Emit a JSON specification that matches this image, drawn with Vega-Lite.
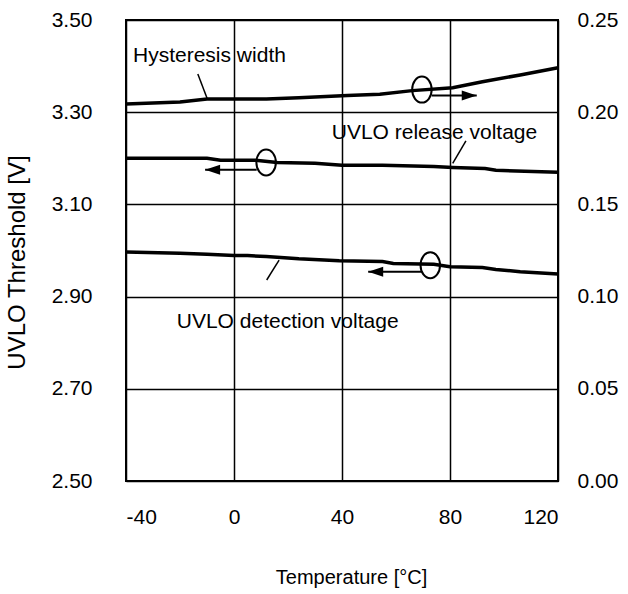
{
  "$schema": "https://vega.github.io/schema/vega-lite/v6.json",
  "width": 432,
  "height": 461,
  "autosize": {"type": "none"},
  "padding": {"left": 126, "top": 20, "right": 70, "bottom": 113},
  "background": "white",
  "config": {
    "font": "Liberation Sans",
    "view": {"stroke": "black", "strokeWidth": 2},
    "axis": {
      "domain": false,
      "ticks": false,
      "grid": true,
      "gridColor": "black",
      "gridWidth": 1.5,
      "gridOpacity": 1,
      "labelFont": "Liberation Sans",
      "labelFontSize": 21,
      "labelColor": "black",
      "titleFont": "Liberation Sans",
      "titleFontSize": 21,
      "titleFontWeight": "normal",
      "titleColor": "black"
    }
  },
  "datasets": {
    "curves": [
      {"series": "release", "temp": -40, "v": 3.200},
      {"series": "release", "temp": -10, "v": 3.200},
      {"series": "release", "temp": -5, "v": 3.196},
      {"series": "release", "temp": 8, "v": 3.196},
      {"series": "release", "temp": 16, "v": 3.191},
      {"series": "release", "temp": 30, "v": 3.189},
      {"series": "release", "temp": 40, "v": 3.185},
      {"series": "release", "temp": 55, "v": 3.185},
      {"series": "release", "temp": 74, "v": 3.182},
      {"series": "release", "temp": 81, "v": 3.180},
      {"series": "release", "temp": 93, "v": 3.178},
      {"series": "release", "temp": 97, "v": 3.174},
      {"series": "release", "temp": 120, "v": 3.170},
      {"series": "detection", "temp": -40, "v": 2.997},
      {"series": "detection", "temp": -20, "v": 2.994},
      {"series": "detection", "temp": -10, "v": 2.992},
      {"series": "detection", "temp": 0, "v": 2.989},
      {"series": "detection", "temp": 5, "v": 2.989},
      {"series": "detection", "temp": 12, "v": 2.987},
      {"series": "detection", "temp": 24, "v": 2.982},
      {"series": "detection", "temp": 39, "v": 2.978},
      {"series": "detection", "temp": 55, "v": 2.976},
      {"series": "detection", "temp": 59, "v": 2.972},
      {"series": "detection", "temp": 74, "v": 2.970},
      {"series": "detection", "temp": 80, "v": 2.965},
      {"series": "detection", "temp": 92, "v": 2.963},
      {"series": "detection", "temp": 97, "v": 2.959},
      {"series": "detection", "temp": 106, "v": 2.954},
      {"series": "detection", "temp": 120, "v": 2.949}
    ],
    "hyst": [
      {"temp": -40, "w": 0.2044},
      {"temp": -20, "w": 0.2055},
      {"temp": -10, "w": 0.2072},
      {"temp": 0, "w": 0.2072},
      {"temp": 12, "w": 0.2072},
      {"temp": 24, "w": 0.2079},
      {"temp": 32, "w": 0.2084},
      {"temp": 42, "w": 0.2090},
      {"temp": 54, "w": 0.2097},
      {"temp": 66, "w": 0.2117},
      {"temp": 81, "w": 0.2133},
      {"temp": 92, "w": 0.2165},
      {"temp": 106, "w": 0.2202},
      {"temp": 120, "w": 0.2241}
    ],
    "ellipses": [
      {"temp": 69.6, "v": 3.349},
      {"temp": 11.9, "v": 3.191},
      {"temp": 72.7, "v": 2.968}
    ],
    "arrows": [
      {"t1": 73.2, "t2": 89.9, "v": 3.336, "dir": "right"},
      {"t1": 8.4, "t2": -10.7, "v": 3.175, "dir": "left"},
      {"t1": 69.5, "t2": 49.7, "v": 2.954, "dir": "left"}
    ],
    "leaders": [
      {"t1": -13.4, "v1": 3.383, "t2": -9.9, "v2": 3.329},
      {"t1": 85.9, "v1": 3.238, "t2": 81.0, "v2": 3.189},
      {"t1": 16.7, "v1": 2.979, "t2": 12.1, "v2": 2.936}
    ],
    "labels": [
      {"temp": -37.4, "v": 3.409, "text": "Hysteresis width"},
      {"temp": 36.2, "v": 3.241, "text": "UVLO release voltage"},
      {"temp": -21.2, "v": 2.831, "text": "UVLO detection voltage"}
    ]
  },
  "layer": [
    {
      "layer": [
        {
          "data": {"name": "curves"},
          "mark": {"type": "line", "color": "black", "strokeWidth": 3.5},
          "encoding": {
            "x": {
              "field": "temp", "type": "quantitative",
              "scale": {"domain": [-40, 120], "nice": false, "zero": false},
              "axis": {"values": [-40, 0, 40, 80, 120], "labelExpr": "replace(datum.label, '\u2212', '-')", "title": "Temperature [°C]", "titleFontSize": 20, "labelPadding": 25, "titlePadding": 40, "titleX": 225}
            },
            "y": {
              "field": "v", "type": "quantitative",
              "scale": {"domain": [2.5, 3.5], "nice": false, "zero": false},
              "axis": {"values": [2.5, 2.7, 2.9, 3.1, 3.3, 3.5], "format": ".2f", "title": "UVLO Threshold [V]", "titleFontSize": 24, "labelPadding": 34, "titlePadding": 22, "titleY": 242}
            },
            "detail": {"field": "series"}
          }
        },
        {
          "data": {"name": "ellipses"},
          "mark": {"type": "point", "shape": "M0,-1A0.75,1,0,1,1,0,1A0.75,1,0,1,1,0,-1Z", "size": 676, "filled": false, "stroke": "black", "strokeWidth": 2, "opacity": 1},
          "encoding": {
            "x": {"field": "temp", "type": "quantitative"},
            "y": {"field": "v", "type": "quantitative"}
          }
        },
        {
          "data": {"name": "arrows"},
          "mark": {"type": "rule", "color": "black", "strokeWidth": 2},
          "encoding": {
            "x": {"field": "t1", "type": "quantitative"},
            "x2": {"field": "t2"},
            "y": {"field": "v", "type": "quantitative"}
          }
        },
        {
          "data": {"name": "arrows"},
          "mark": {"type": "point", "filled": true, "size": 400, "color": "black", "opacity": 1},
          "encoding": {
            "x": {"field": "t2", "type": "quantitative"},
            "y": {"field": "v", "type": "quantitative"},
            "shape": {
              "field": "dir", "type": "nominal",
              "scale": {"domain": ["right", "left"], "range": ["M0,0L-1.5,-0.5L-1.5,0.5Z", "M0,0L1.5,-0.5L1.5,0.5Z"]},
              "legend": null
            }
          }
        },
        {
          "data": {"name": "leaders"},
          "mark": {"type": "rule", "color": "black", "strokeWidth": 1.5},
          "encoding": {
            "x": {"field": "t1", "type": "quantitative"},
            "y": {"field": "v1", "type": "quantitative"},
            "x2": {"field": "t2"},
            "y2": {"field": "v2"}
          }
        },
        {
          "data": {"name": "labels"},
          "mark": {"type": "text", "align": "left", "baseline": "alphabetic", "font": "Liberation Sans", "fontSize": 21, "color": "black"},
          "encoding": {
            "x": {"field": "temp", "type": "quantitative"},
            "y": {"field": "v", "type": "quantitative"},
            "text": {"field": "text"}
          }
        }
      ]
    },
    {
      "data": {"name": "hyst"},
      "mark": {"type": "line", "color": "black", "strokeWidth": 3.5},
      "encoding": {
        "x": {"field": "temp", "type": "quantitative"},
        "y": {
          "field": "w", "type": "quantitative",
          "scale": {"domain": [0, 0.25], "nice": false},
          "axis": {"orient": "right", "values": [0, 0.05, 0.1, 0.15, 0.2, 0.25], "format": ".2f", "title": null, "grid": false, "labelPadding": 19}
        }
      }
    }
  ],
  "resolve": {"scale": {"y": "independent"}}
}
